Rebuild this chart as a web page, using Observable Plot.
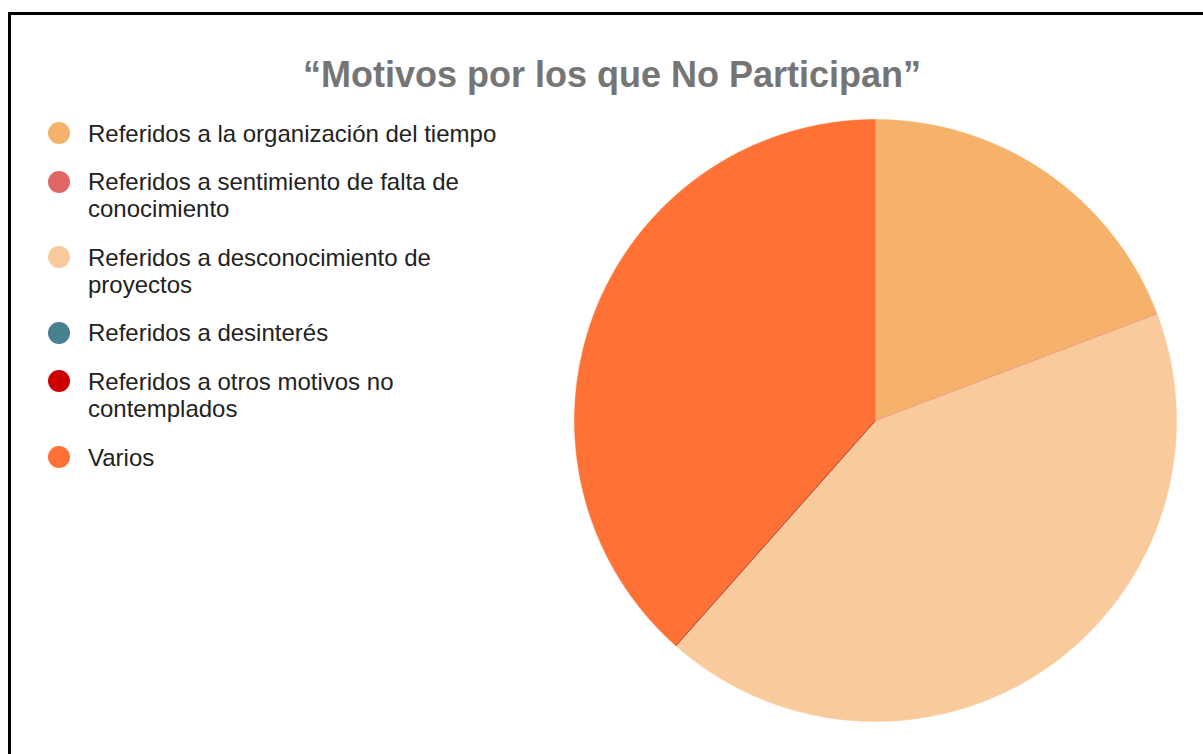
<!DOCTYPE html>
<html>
<head>
<meta charset="utf-8">
<script src="https://cdn.jsdelivr.net/npm/d3@7"></script>
<script src="https://cdn.jsdelivr.net/npm/@observablehq/plot@0.6"></script>
<style>
  html, body { margin: 0; padding: 0; width: 1203px; height: 754px; overflow: hidden; background: #fff;
    font-family: "Liberation Sans", Arial, sans-serif; }
  #frame { position: absolute; left: 8px; top: 12px; width: 1400px; height: 1000px;
    border: 3px solid #000; box-sizing: border-box; }
  #title { position: absolute; left: 0; width: 1224px; top: 57px; text-align: center;
    font-weight: bold; font-size: 36px; line-height: 36px; color: #757575; white-space: nowrap; }
  #legend { position: absolute; left: 48px; top: 119.6px; display: flex; flex-direction: column; gap: 20.8px; }
  .item { display: flex; align-items: flex-start; }
  .sw { width: 22px; height: 22px; border-radius: 50%; margin-top: 2.7px; flex: none; }
  .lab { margin-left: 18px; width: 425px; font-size: 24px; line-height: 27.5px; color: #222; }
  #pie { position: absolute; left: 555px; top: 100px; }
</style>
</head>
<body>
<div id="frame"></div>
<div id="title"></div>
<div id="legend"></div>
<div id="pie"></div>
<script>
const titulo = "“Motivos por los que No Participan”";
const categorias = [
  "Referidos a la organización del tiempo",
  "Referidos a sentimiento de falta de conocimiento",
  "Referidos a desconocimiento de proyectos",
  "Referidos a desinterés",
  "Referidos a otros motivos no contemplados",
  "Varios"
];
const valores = [5, 0, 11, 0, 0, 10];
const colores = ["#f6b26b", "#e06666", "#f9cb9c", "#45818e", "#cc0000", "#ff7134"];

document.getElementById("title").textContent = titulo;

const legend = document.getElementById("legend");
categorias.forEach((c, i) => {
  const item = document.createElement("div");
  item.className = "item";
  const sw = document.createElement("span");
  sw.className = "sw";
  sw.style.background = colores[i];
  const lab = document.createElement("span");
  lab.className = "lab";
  lab.textContent = c;
  item.appendChild(sw);
  item.appendChild(lab);
  legend.appendChild(item);
});

const datos = categorias.map((c, i) => ({cat: c, valor: valores[i]}));
const arcos = d3.pie().sort(null).value(d => d.valor)(datos);
const R = 301;

const puntos = [];
const ceros = [];
for (const a of arcos) {
  if (a.endAngle - a.startAngle <= 0) {
    ceros.push({cat: a.data.cat, x2: R * Math.sin(a.startAngle), y2: R * Math.cos(a.startAngle)});
    continue;
  }
  puntos.push({cat: a.data.cat, x: 0, y: 0});
  const n = Math.max(2, Math.ceil((a.endAngle - a.startAngle) / 0.004));
  for (let k = 0; k <= n; k++) {
    const t = a.startAngle + (a.endAngle - a.startAngle) * k / n;
    puntos.push({cat: a.data.cat, x: R * Math.sin(t), y: R * Math.cos(t)});
  }
}

const chart = Plot.plot({
  width: 640,
  height: 640,
  margin: 0,
  x: {domain: [-320, 320], axis: null},
  y: {domain: [-320, 320], axis: null},
  color: {domain: categorias, range: colores},
  style: {background: "transparent"},
  marks: [
    Plot.line(puntos, {x: "x", y: "y", z: "cat", fill: "cat", stroke: "cat", strokeWidth: 0.5, curve: "linear"}),
    Plot.link(ceros, {x1: 0, y1: 0, x2: "x2", y2: "y2", stroke: "cat", strokeWidth: 1, strokeOpacity: 0.5})
  ]
});
document.getElementById("pie").appendChild(chart);
</script>
</body>
</html>
